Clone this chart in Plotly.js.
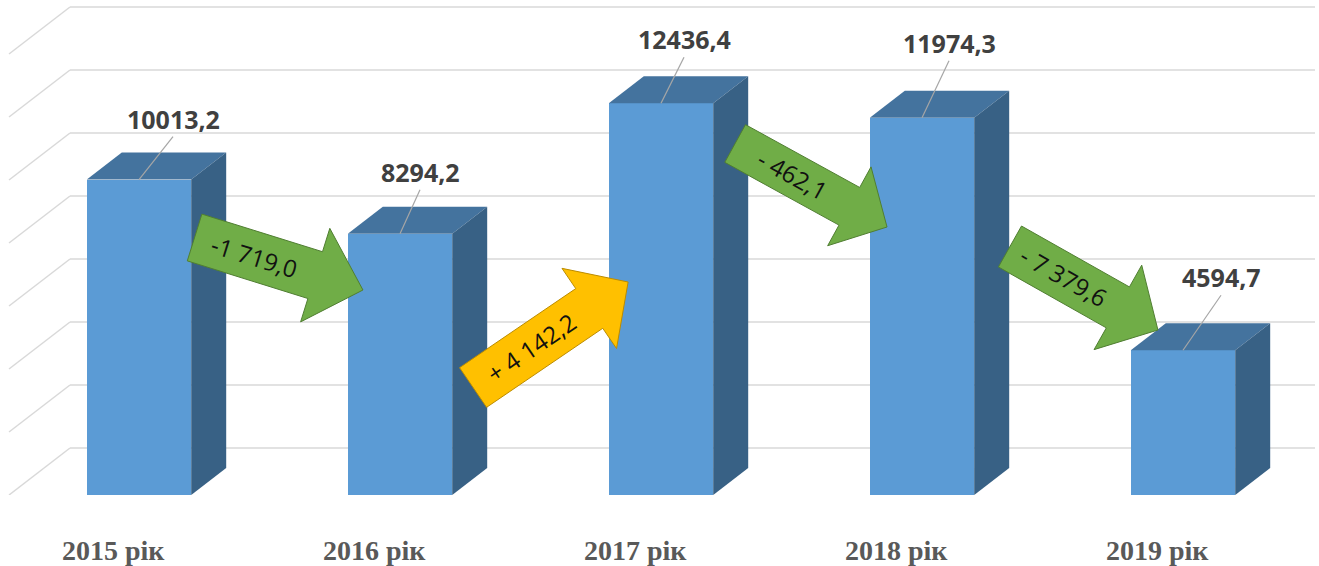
<!DOCTYPE html>
<html>
<head>
<meta charset="utf-8">
<script src="https://cdn.plot.ly/plotly-3.0.1.min.js"></script>
<style>html,body{margin:0;padding:0;background:#fff;}#chart{width:1319px;height:566px;}</style>
</head>
<body>
<div id="chart"></div>
<script>
// ---- DATA ----
const categories = ['2015 рік', '2016 рік', '2017 рік', '2018 рік', '2019 рік'];
const values = [10013.2, 8294.2, 12436.4, 11974.3, 4594.7];
const valueLabels = ['10013,2', '8294,2', '12436,4', '11974,3', '4594,7'];
const changeLabels = ['-1 719,0', '+ 4 142,2', '- 462,1', '- 7 379,6'];
const gridValues = [0, 2000, 4000, 6000, 8000, 10000, 12000, 14000];

// ---- LAYOUT / STYLE ----
const W = 1319, H = 566, MB = 71, PLOT_H = H - MB;
const X_PX = 261;      // px per category step
const X0 = 139;        // pixel x of first category
const Y_PX = 0.0315;   // px per value unit
const xRange = [-X0 / X_PX, (W - X0) / X_PX];
const yRange = [0, PLOT_H / Y_PX];
const dx = px => px / X_PX;
const dy = px => px / Y_PX;
const toPx = (x, v) => [X0 + x * X_PX, PLOT_H - v * Y_PX];
const fromPx = (px, py) => [(px - X0) / X_PX, (PLOT_H - py) / Y_PX];

const BAR_W = 0.4;
const barDepth = {x: dx(35), y: dy(27)};
const wallDepth = {x: dx(61), y: dy(47)};
const wallLeft = fromPx(9, 0)[0];
const wallRight = fromPx(1315, 0)[0];

const COL_FRONT = '#5b9bd5', COL_TOP = '#44739e', COL_SIDE = '#386185';
const GRID_COL = '#d9d9d9';

// label offsets in px from front-top-centre of each bar (layout only)
const labelOff = [[34, 61], [20, 62], [23, 64], [27, 75], [38, 73]];

// arrows: positions expressed in axis units (layout only)
const arrowSpec = [
  {from: [0.213, 8175], to: [0.858, 6508], sw: 49, hw: 98, hl: 50, fill: '#70ad47', line: '#507e32'},
  {from: [1.280, 3413], to: [1.874, 6762], sw: 48, hw: 97, hl: 47, fill: '#ffc000', line: '#bc8c00'},
  {from: [2.284, 11159], to: [2.866, 8508], sw: 43, hw: 90, hl: 43, fill: '#70ad47', line: '#507e32'},
  {from: [3.337, 7889], to: [3.904, 5238], sw: 47, hw: 97, hl: 46, fill: '#70ad47', line: '#507e32'}
];

const xs = categories.map((c, i) => i);
const traces = [];
const shapes = [];
const annotations = [];

// gridlines (back wall + left wall)
gridValues.forEach(v => {
  shapes.push({type: 'line', layer: 'below', xref: 'x', yref: 'y',
    x0: wallLeft + wallDepth.x, y0: v + wallDepth.y, x1: wallRight, y1: v + wallDepth.y,
    line: {color: GRID_COL, width: 1.5}});
  shapes.push({type: 'line', layer: 'below', xref: 'x', yref: 'y',
    x0: wallLeft, y0: v, x1: wallLeft + wallDepth.x, y1: v + wallDepth.y,
    line: {color: GRID_COL, width: 1.5}});
});

// front faces
traces.push({type: 'bar', x: xs, y: values, width: BAR_W,
  marker: {color: COL_FRONT, line: {width: 0}}, hoverinfo: 'none'});

// top & side faces
values.forEach((v, i) => {
  const l = i - BAR_W / 2, r = i + BAR_W / 2;
  traces.push({type: 'scatter', mode: 'lines', fill: 'toself', fillcolor: COL_TOP,
    line: {width: 0, color: COL_TOP}, hoverinfo: 'none',
    x: [l, l + barDepth.x, r + barDepth.x, r, l],
    y: [v, v + barDepth.y, v + barDepth.y, v, v]});
  traces.push({type: 'scatter', mode: 'lines', fill: 'toself', fillcolor: COL_SIDE,
    line: {width: 0, color: COL_SIDE}, hoverinfo: 'none',
    x: [r, r, r + barDepth.x, r + barDepth.x, r],
    y: [0, v, v + barDepth.y, barDepth.y, 0]});
});

// value labels + leader lines
values.forEach((v, i) => {
  const [ox, oy] = labelOff[i];
  annotations.push({x: i, y: v, xref: 'x', yref: 'y', xshift: ox, yshift: oy,
    text: valueLabels[i], showarrow: false, xanchor: 'center', yanchor: 'middle',
    font: {family: 'Open Sans, sans-serif', size: 25, color: '#404040', weight: 'bold'}});
  shapes.push({type: 'line', xref: 'x', yref: 'y',
    x0: i + dx(ox), y0: v + dy(oy - 18), x1: i, y1: v,
    line: {color: '#a6a6a6', width: 1.2}});
});

// category labels
categories.forEach((c, i) => {
  annotations.push({x: i, y: 0, xref: 'x', yref: 'y', xshift: -26, yshift: -55,
    text: c, showarrow: false, xanchor: 'center', yanchor: 'middle',
    font: {family: 'Liberation Serif, serif', size: 28, color: '#595959', weight: 'bold'}});
});

// change arrows
arrowSpec.forEach((a, k) => {
  const t = toPx(a.from[0], a.from[1]);
  const p = toPx(a.to[0], a.to[1]);
  const len = Math.hypot(p[0] - t[0], p[1] - t[1]);
  const u = [(p[0] - t[0]) / len, (p[1] - t[1]) / len];
  const n = [-u[1], u[0]];
  const b = [p[0] - u[0] * a.hl, p[1] - u[1] * a.hl];
  const pts = [
    [t[0] + n[0] * a.sw / 2, t[1] + n[1] * a.sw / 2],
    [b[0] + n[0] * a.sw / 2, b[1] + n[1] * a.sw / 2],
    [b[0] + n[0] * a.hw / 2, b[1] + n[1] * a.hw / 2],
    p,
    [b[0] - n[0] * a.hw / 2, b[1] - n[1] * a.hw / 2],
    [b[0] - n[0] * a.sw / 2, b[1] - n[1] * a.sw / 2],
    [t[0] - n[0] * a.sw / 2, t[1] - n[1] * a.sw / 2]
  ].map(q => fromPx(q[0], q[1]));
  const path = 'M' + pts.map(q => q[0] + ',' + q[1]).join('L') + 'Z';
  shapes.push({type: 'path', xref: 'x', yref: 'y', path: path,
    fillcolor: a.fill, line: {color: a.line, width: 1}});
  const mid = fromPx((t[0] + b[0]) / 2, (t[1] + b[1]) / 2);
  const ang = Math.atan2(u[1], u[0]) * 180 / Math.PI;
  annotations.push({x: mid[0], y: mid[1], xref: 'x', yref: 'y', text: changeLabels[k],
    showarrow: false, textangle: ang, xanchor: 'center', yanchor: 'middle',
    font: {family: 'Open Sans, sans-serif', size: 24, color: '#111111'}});
});

const layout = {
  width: W, height: H,
  margin: {l: 0, r: 0, t: 0, b: MB, pad: 0},
  paper_bgcolor: '#ffffff', plot_bgcolor: '#ffffff',
  showlegend: false,
  xaxis: {range: xRange, visible: false, fixedrange: true},
  yaxis: {range: yRange, visible: false, fixedrange: true},
  shapes: shapes, annotations: annotations,
  bargap: 0
};

Plotly.newPlot('chart', traces, layout, {staticPlot: true, displayModeBar: false});
</script>
</body>
</html>
